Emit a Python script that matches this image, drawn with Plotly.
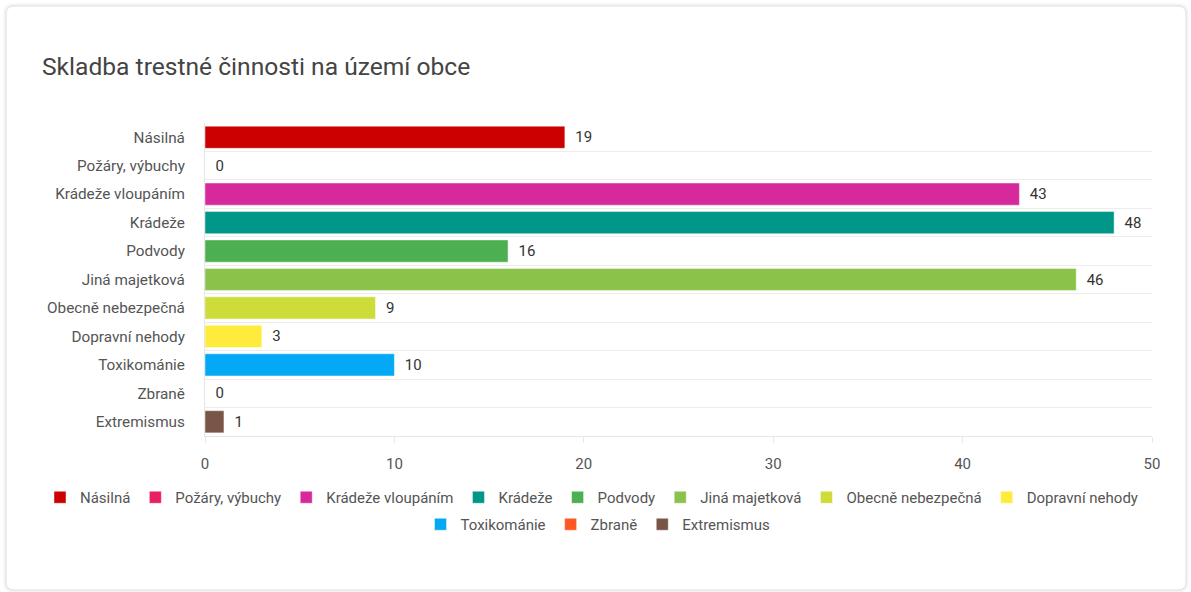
import plotly.graph_objects as go

categories = ["Násilná", "Požáry, výbuchy", "Krádeže vloupáním", "Krádeže", "Podvody",
              "Jiná majetková", "Obecně nebezpečná", "Dopravní nehody", "Toxikománie",
              "Zbraně", "Extremismus"]
counts = [19, 0, 43, 48, 16, 46, 9, 3, 10, 0, 1]
colors = ["#cc0000", "#e91e63", "#d6299b", "#009688", "#4caf50", "#8bc34a",
          "#cddc39", "#ffeb3b", "#03a9f4", "#ff5722", "#795548"]
x_ticks = [0, 10, 20, 30, 40, 50]

# plot area in pixels
L, T, W, H = 205, 123, 947, 313

fig = go.Figure()
for i, (cat, val, col) in enumerate(zip(categories, counts, colors)):
    fig.add_trace(go.Bar(
        y=[cat], x=[val], name=cat, orientation="h",
        marker=dict(color=col, line=dict(color="rgba(255,255,255,0.45)", width=1)),
        width=0.78,
        text=["\u00a0\u00a0" + str(val)], textposition="outside",
        textfont=dict(family="Roboto", size=15, color="#333"),
        cliponaxis=False,
        legend="legend" if i < 8 else "legend2",
    ))


def px_x(p):
    return (p - L) / W


def px_y(p):
    return (T + H - p) / H


def card(x0, y0, x1, y1, r):
    rx, ry = r / W, r / H
    a, b, c, d = px_x(x0), px_y(y1), px_x(x1), px_y(y0)
    return (f"M {a+rx},{d} L {c-rx},{d} Q {c},{d} {c},{d-ry} "
            f"L {c},{b+ry} Q {c},{b} {c-rx},{b} "
            f"L {a+rx},{b} Q {a},{b} {a},{b+ry} "
            f"L {a},{d-ry} Q {a},{d} {a+rx},{d} Z")


leg_font = dict(family="Roboto", size=15, color="#555")
fig.update_layout(
    width=1191, height=592,
    paper_bgcolor="white", plot_bgcolor="white",
    barmode="overlay",
    font=dict(family="Roboto", color="#555", size=14),
    title=dict(text="Skladba trestné činnosti na území obce", x=42 / 1191, xanchor="left",
               y=1 - 66 / 592, yanchor="middle",
               font=dict(family="Roboto", size=24.6, color="#444")),
    margin=dict(l=L, r=1191 - L - W, t=T, b=592 - T - H),
    showlegend=True,
    legend=dict(orientation="h", x=px_x(40), xanchor="left",
                y=px_y(497 - 16), yanchor="top",
                font=leg_font, itemclick=False, traceorder="normal", itemwidth=30),
    legend2=dict(orientation="h", x=px_x(598), xanchor="center",
                 y=px_y(523 - 15), yanchor="top",
                 font=leg_font, itemclick=False, traceorder="normal", itemwidth=30),
    xaxis=dict(range=[0, 50], tickvals=x_ticks, showgrid=False, zeroline=False,
               showline=True, linecolor="#e6e6e6", linewidth=1,
               ticks="outside", ticklen=6, tickcolor="#e6e6e6", ticklabelstandoff=8,
               tickfont=dict(family="Roboto", size=15, color="#555"), fixedrange=True),
    yaxis=dict(categoryorder="array", categoryarray=categories, autorange="reversed",
               tickson="boundaries", showgrid=True, gridcolor="#ececec", gridwidth=1,
               showline=True, linecolor="#e6e6e6", zeroline=False, ticks="",
               ticklabelstandoff=16,
               tickfont=dict(family="Roboto", size=15.3, color="#555"), fixedrange=True),
    shapes=[
        dict(type="path", path=card(5, 5, 1187, 591, 9), xref="paper", yref="paper",
             line=dict(color="#f3f3f3", width=3), layer="below"),
        dict(type="path", path=card(6, 6, 1186, 590, 8), xref="paper", yref="paper",
             line=dict(color="#e2e2e2", width=1), layer="below"),
    ],
)
fig.write_html("out.html", config={"displayModeBar": False},
               post_script="document.body.style.margin='0';")
